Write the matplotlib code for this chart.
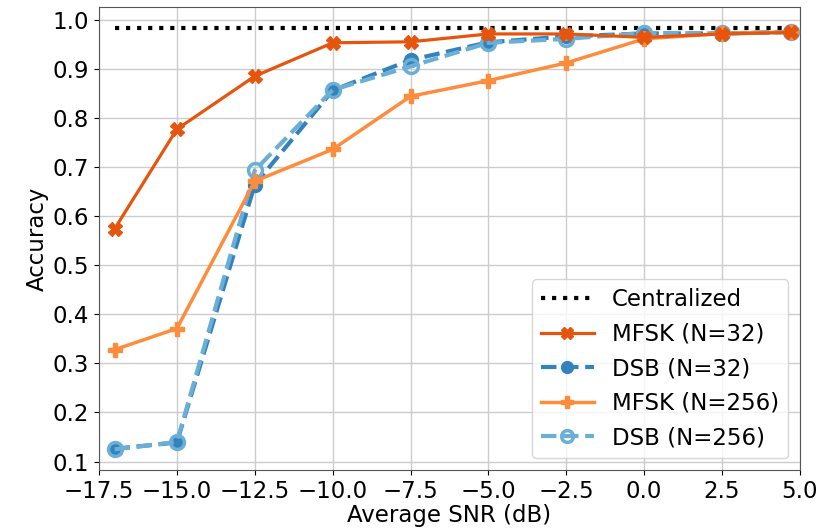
import matplotlib
matplotlib.use("Agg")
import matplotlib.pyplot as plt

snr = [-17.0, -15.0, -12.5, -10.0, -7.5, -5.0, -2.5, 0.0, 2.5, 4.7]
centralized = [0.983] * len(snr)
mfsk_32 = [0.574, 0.777, 0.885, 0.953, 0.955, 0.971, 0.971, 0.964, 0.971, 0.974]
dsb_32 = [0.126, 0.139, 0.664, 0.856, 0.918, 0.954, 0.966, 0.972, 0.972, 0.975]
mfsk_256 = [0.328, 0.371, 0.671, 0.736, 0.844, 0.876, 0.912, 0.961, 0.972, 0.975]
dsb_256 = [0.125, 0.140, 0.693, 0.857, 0.905, 0.953, 0.961, 0.973, 0.972, 0.975]
xticks = [-17.5, -15.0, -12.5, -10.0, -7.5, -5.0, -2.5, 0.0, 2.5, 5.0]
yticks = [0.1, 0.2, 0.3, 0.4, 0.5, 0.6, 0.7, 0.8, 0.9, 1.0]

plt.rcParams['font.family'] = ['DejaVu Sans']
fs = 16.5
fig, ax = plt.subplots(figsize=(8.35, 5.31), dpi=100)
fig.subplots_adjust(left=0.1186, right=0.958, top=0.986, bottom=0.115)

ax.plot(snr, centralized, color='black', linestyle=':', linewidth=3, label='Centralized', zorder=3)
ax.plot(snr, mfsk_32, color='#e6550d', marker='X', markersize=10, linewidth=2.3,
        label='MFSK (N=32)', zorder=6)
ax.plot(snr, dsb_32, color='#3182bd', marker='o', markersize=10, linewidth=3,
        linestyle='--', label='DSB (N=32)', zorder=4)
ax.plot(snr, mfsk_256, color='#fd8d3c', marker='P', markersize=10.5, linewidth=2.5,
        label='MFSK (N=256)', zorder=5)
ax.plot(snr, dsb_256, color='#6baed6', marker='o', markersize=10, linewidth=3,
        linestyle='--', markerfacecolor='none', markeredgewidth=2.5,
        label='DSB (N=256)', zorder=4)

ax.set_xlim(-17.5, 5.0)
ax.set_ylim(0.083, 1.025)
ax.set_xticks(xticks)
ax.set_yticks(yticks)
ax.tick_params(labelsize=fs)
ax.grid(True, color='#cccccc', linewidth=1)
ax.set_axisbelow(True)
ax.set_xlabel('Average SNR (dB)', fontsize=fs, labelpad=1)
ax.set_ylabel('Accuracy', fontsize=fs, labelpad=3)
for s in ax.spines.values():
    s.set_color('#555555')
ax.legend(loc='lower right', fontsize=fs, handlelength=2.3, markerscale=0.85)

fig.savefig('out.png', dpi=100)
